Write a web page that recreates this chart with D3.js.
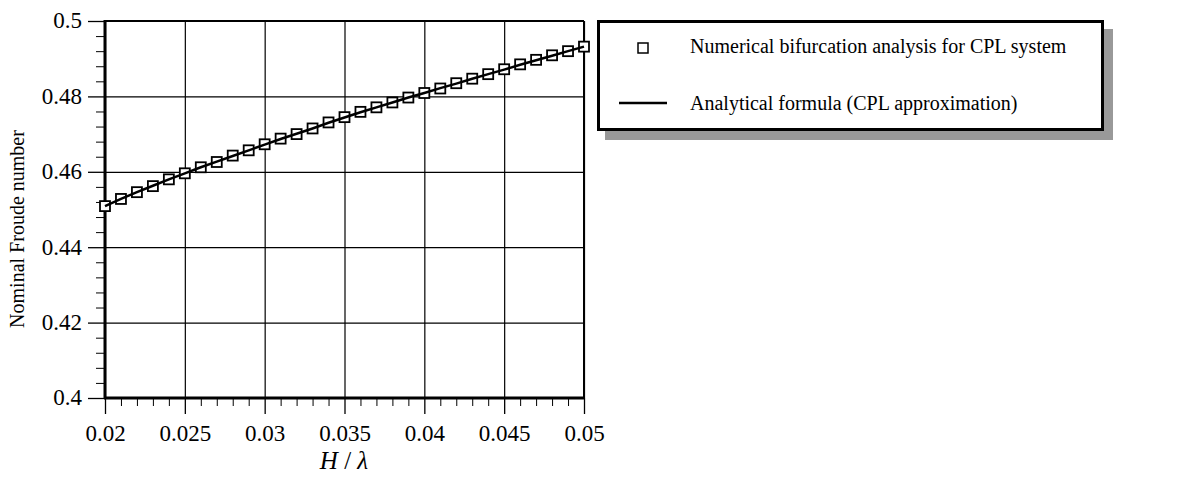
<!DOCTYPE html>
<html>
<head>
<meta charset="utf-8">
<script src="https://cdn.jsdelivr.net/npm/d3@7"></script>
<style>
  html, body { margin: 0; padding: 0; background: #fff; }
  svg { display: block; font-family: "Liberation Serif", "Times New Roman", serif; }
</style>
</head>
<body>
<svg id="chart" width="1191" height="488"></svg>
<script>
// ---- data ----
const waveSteepness = [0.020,0.021,0.022,0.023,0.024,0.025,0.026,0.027,0.028,0.029,0.030,
  0.031,0.032,0.033,0.034,0.035,0.036,0.037,0.038,0.039,0.040,
  0.041,0.042,0.043,0.044,0.045,0.046,0.047,0.048,0.049,0.050];
const numericalFroude = [0.4509,0.4528,0.4546,0.4562,0.4580,0.4596,0.4612,0.4626,0.4643,0.4657,0.4673,
  0.4688,0.4700,0.4715,0.4731,0.4745,0.4759,0.4771,0.4784,0.4797,0.4809,
  0.4821,0.4835,0.4847,0.4859,0.4872,0.4885,0.4897,0.4909,0.4920,0.4932];
const analyticalFroude = [0.4509,0.4528,0.4546,0.4563,0.4580,0.4596,0.4612,0.4627,0.4642,0.4657,0.4672,
  0.4687,0.4701,0.4715,0.4730,0.4744,0.4758,0.4771,0.4784,0.4797,0.4809,
  0.4822,0.4834,0.4847,0.4859,0.4871,0.4884,0.4896,0.4908,0.4920,0.4932];
const xTicks = [0.02,0.025,0.03,0.035,0.04,0.045,0.05];
const xTickLabels = ["0.02","0.025","0.03","0.035","0.04","0.045","0.05"];
const xMinorTicks = [0.021,0.022,0.023,0.024,0.026,0.027,0.028,0.029,0.031,0.032,0.033,0.034,
  0.036,0.037,0.038,0.039,0.041,0.042,0.043,0.044,0.046,0.047,0.048,0.049];
const yTicks = [0.4,0.42,0.44,0.46,0.48,0.5];
const yTickLabels = ["0.4","0.42","0.44","0.46","0.48","0.5"];
const yMinorTicks = [0.404,0.408,0.412,0.416,0.424,0.428,0.432,0.436,0.444,0.448,0.452,0.456,
  0.464,0.468,0.472,0.476,0.484,0.488,0.492,0.496];
const legendLabels = ["Numerical bifurcation analysis for CPL system", "Analytical formula (CPL approximation)"];
const yTitle = "Nominal Froude number";

// ---- layout ----
const svg = d3.select("#chart");
const L = 105, R = 584, T = 21, B = 398;
const x = d3.scaleLinear().domain([0.02, 0.05]).range([L, R]);
const y = d3.scaleLinear().domain([0.4, 0.5]).range([B, T]);
const FONT = "Liberation Serif, Times New Roman, serif";

// grid
svg.append("g").attr("transform", `translate(0,${B})`)
  .call(d3.axisBottom(x).tickValues(xTicks).tickSize(-(B - T)).tickFormat(""))
  .call(g => g.select(".domain").remove())
  .call(g => g.selectAll("line").attr("stroke", "#000").attr("stroke-width", 1.2));
svg.append("g").attr("transform", `translate(${L},0)`)
  .call(d3.axisLeft(y).tickValues(yTicks).tickSize(-(R - L)).tickFormat(""))
  .call(g => g.select(".domain").remove())
  .call(g => g.selectAll("line").attr("stroke", "#000").attr("stroke-width", 1.2));

// minor ticks
svg.append("g").attr("transform", `translate(0,${B})`)
  .call(d3.axisBottom(x).tickValues(xMinorTicks).tickSize(8).tickFormat(""))
  .call(g => g.select(".domain").remove())
  .call(g => g.selectAll("line").attr("stroke", "#000").attr("stroke-width", 1));
svg.append("g").attr("transform", `translate(${L},0)`)
  .call(d3.axisLeft(y).tickValues(yMinorTicks).tickSize(9).tickFormat(""))
  .call(g => g.select(".domain").remove())
  .call(g => g.selectAll("line").attr("stroke", "#000").attr("stroke-width", 1));

// major ticks with labels
svg.append("g").attr("transform", `translate(0,${B})`)
  .call(d3.axisBottom(x).tickValues(xTicks).tickSize(16).tickPadding(11)
    .tickFormat((d, i) => xTickLabels[i]))
  .attr("font-family", FONT).attr("font-size", 23)
  .call(g => g.select(".domain").remove())
  .call(g => g.selectAll("line").attr("stroke", "#000").attr("stroke-width", 1.3))
  .call(g => g.selectAll("text").attr("fill", "#000").attr("font-size", 23).attr("font-family", FONT));
svg.append("g").attr("transform", `translate(${L},0)`)
  .call(d3.axisLeft(y).tickValues(yTicks).tickSize(17).tickPadding(6)
    .tickFormat((d, i) => yTickLabels[i]))
  .attr("font-family", FONT).attr("font-size", 23)
  .call(g => g.select(".domain").remove())
  .call(g => g.selectAll("line").attr("stroke", "#000").attr("stroke-width", 1.3))
  .call(g => g.selectAll("text").attr("fill", "#000").attr("font-size", 23).attr("font-family", FONT)
    .attr("dy", "0.3em"));

// frame
svg.append("line").attr("x1", L).attr("x2", R).attr("y1", T).attr("y2", T)
  .attr("stroke", "#000").attr("stroke-width", 2);
svg.append("line").attr("x1", R).attr("x2", R).attr("y1", T).attr("y2", B)
  .attr("stroke", "#000").attr("stroke-width", 2);
svg.append("line").attr("x1", L).attr("x2", L).attr("y1", T - 1).attr("y2", B + 1)
  .attr("stroke", "#000").attr("stroke-width", 3);
svg.append("line").attr("x1", L - 1).attr("x2", R + 1).attr("y1", B).attr("y2", B)
  .attr("stroke", "#000").attr("stroke-width", 3);

// markers
const ms = 10;
svg.append("g").selectAll("rect").data(waveSteepness).join("rect")
  .attr("x", d => x(d) - ms / 2)
  .attr("y", (d, i) => y(numericalFroude[i]) - ms / 2)
  .attr("width", ms).attr("height", ms)
  .attr("fill", "#fff").attr("stroke", "#000").attr("stroke-width", 1.8);

// analytical line
const line = d3.line().x(d => x(d[0])).y(d => y(d[1]));
svg.append("path")
  .datum(waveSteepness.map((d, i) => [d, analyticalFroude[i]]))
  .attr("d", line).attr("fill", "none").attr("stroke", "#000").attr("stroke-width", 2.5);

// axis titles
svg.append("text").attr("transform", `translate(24,229) rotate(-90)`)
  .attr("text-anchor", "middle").attr("font-size", 20).attr("fill", "#000")
  .text(yTitle);
const xt = svg.append("text").attr("x", 344).attr("y", 469)
  .attr("text-anchor", "middle").attr("font-size", 25).attr("fill", "#000");
xt.append("tspan").attr("font-style", "italic").text("H");
xt.append("tspan").text(" / ");
xt.append("tspan").attr("font-style", "italic").text("λ");

// legend
const lg = svg.append("g");
lg.append("rect").attr("x", 605).attr("y", 29).attr("width", 508).attr("height", 111).attr("fill", "#999");
lg.append("rect").attr("x", 598.5).attr("y", 21.5).attr("width", 504).attr("height", 108)
  .attr("fill", "#fff").attr("stroke", "#000").attr("stroke-width", 3);
lg.append("rect").attr("x", 638).attr("y", 43).attr("width", 10).attr("height", 10)
  .attr("fill", "#fff").attr("stroke", "#000").attr("stroke-width", 1.5);
lg.append("line").attr("x1", 619).attr("x2", 667).attr("y1", 103).attr("y2", 103)
  .attr("stroke", "#000").attr("stroke-width", 2.5);
lg.selectAll("text.lbl").data(legendLabels).join("text").attr("class", "lbl")
  .attr("x", 690).attr("y", (d, i) => i === 0 ? 53 : 110)
  .attr("font-size", 20).attr("fill", "#000").text(d => d);
</script>
</body>
</html>
